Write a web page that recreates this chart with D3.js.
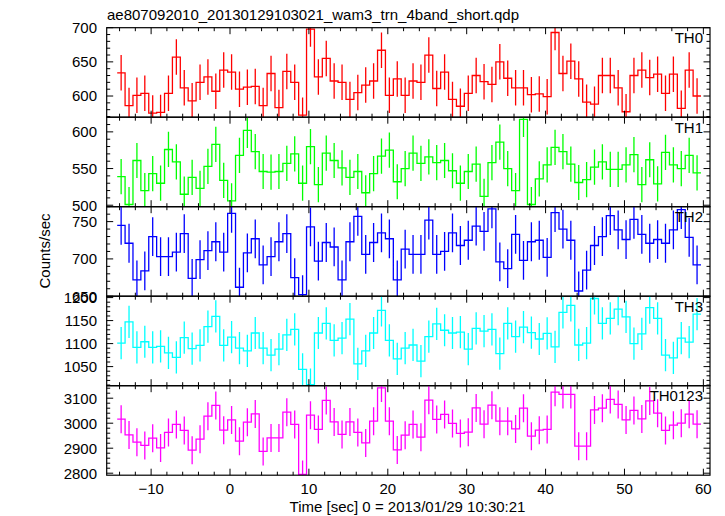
<!DOCTYPE html>
<html><head><meta charset="utf-8">
<script src="https://cdn.jsdelivr.net/npm/d3@7"></script>
<style>
body{margin:0;background:#fff}
svg{display:block}
text{font-family:"Liberation Sans",Arial,Helvetica,sans-serif;fill:#000}
</style>
</head><body>
<svg id="c" width="725" height="516"></svg>
<script>
// ---- data ----
const title = "ae807092010_20130129103021_wam3_trn_4band_short.qdp";
const xLabel = "Time [sec] 0 = 2013/01/29 10:30:21";
const yLabel = "Counts/sec";
const panelNames = ["TH0", "TH1", "TH2", "TH3", "TH0123"];
const times = [-13.8,-12.8,-11.8,-10.8,-9.8,-8.8,-7.8,-6.8,-5.8,-4.8,-3.8,-2.8,-1.8,-0.8,0.2,1.2,2.2,3.2,4.2,5.2,6.2,7.2,8.2,9.2,10.2,11.2,12.2,13.2,14.2,15.2,16.2,17.2,18.2,19.2,20.2,21.2,22.2,23.2,24.2,25.2,26.2,27.2,28.2,29.2,30.2,31.2,32.2,33.2,34.2,35.2,36.2,37.2,38.2,39.2,40.2,41.2,42.2,43.2,44.2,45.2,46.2,47.2,48.2,49.2,50.2,51.2,52.2,53.2,54.2,55.2,56.2,57.2,58.2,59.2];
const binWidth = 1.0;
const th0 = [634,586,601,604,575,576,604,657,612,593,620,628,607,638,635,610,613,614,586,633,583,636,620,572,698,628,655,622,620,595,605,616,622,667,601,625,601,622,620,660,611,635,595,585,604,630,621,617,650,626,612,612,602,603,599,693,633,651,625,591,588,630,630,612,577,630,638,627,632,604,632,582,638,600];
const th1 = [539,501,561,520,543,530,576,559,515,538,523,553,583,534,506,568,602,573,546,545,546,557,570,530,580,528,571,561,551,538,546,517,543,567,575,532,550,571,557,566,558,561,547,530,546,556,512,558,586,550,520,617,501,536,555,579,573,556,531,535,552,559,549,549,555,569,528,562,529,572,555,550,568,544];
const th2 = [745,721,672,684,730,703,703,709,734,674,699,711,723,709,761,662,708,727,692,703,723,734,675,652,743,697,722,716,672,723,757,706,722,735,727,672,713,706,706,752,706,710,735,718,725,744,737,767,696,687,733,698,723,725,702,762,740,725,657,685,718,730,758,739,726,753,733,721,726,721,739,766,729,692];
const th3 = [1101,1147,1092,1104,1092,1094,1080,1070,1113,1089,1096,1137,1159,1096,1114,1090,1084,1123,1090,1075,1088,1119,1131,1044,1011,1123,1144,1107,1112,1153,1056,1084,1123,1172,1107,1067,1090,1097,1062,1115,1143,1129,1123,1125,1088,1133,1127,1131,1078,1144,1115,1136,1124,1110,1122,1093,1168,1183,1097,1101,1198,1144,1155,1175,1158,1100,1121,1178,1155,1075,1069,1112,1103,1164];
const th0123 = [3016,2953,2924,2911,2940,2901,2963,2995,2971,2892,2936,3028,3071,2972,3013,2928,3004,3037,2887,2941,2941,3044,2995,2795,3032,2975,3091,3005,2955,3005,2963,2921,3008,3141,3008,2893,2952,2995,2944,3092,3015,3035,2999,2959,2964,3061,2996,3072,3008,3008,2977,3060,2948,2972,2975,3124,3115,3115,2908,2908,3053,3060,3095,3075,3013,3051,3017,3089,3040,2971,2992,3000,3036,2996];
const errors = [26, 24, 26, 35, 56];
const yDomains = [[569,700],[498,620],[650,770],[1008.5,1203],[2792,3150]];
const yMajorTicks = [[600,650,700],[500,550,600],[650,700,750],[1050,1100,1150,1200],[2800,2900,3000,3100]];
const yMinorStep = [10,10,10,10,20];
const xMajorTicks = [-10,0,10,20,30,40,50,60];
const xMinorStep = 2;
const xDomain = [-15.63, 60.84];

const series = [th0, th1, th2, th3, th0123];
const colors = ["#ff0000", "#00ff00", "#0000ff", "#00ffff", "#ff00ff"];

// ---- layout ----
const svg = d3.select("#c");
const left = 106.7, right = 710, top0 = 27.7, ph = 89.5;
const x = d3.scaleLinear().domain(xDomain).range([left, right]);
const majLen = 6.5, minLen = 3.5;

const xMinor = d3.range(Math.ceil(xDomain[0]/xMinorStep)*xMinorStep, xDomain[1], xMinorStep)
  .filter(v => !xMajorTicks.includes(v));

series.forEach((vals, i) => {
  const t = top0 + i*ph, b = t + ph;
  const y = d3.scaleLinear().domain(yDomains[i]).range([b, t]);
  const g = svg.append("g");
  const cid = "clip" + i;
  svg.append("clipPath").attr("id", cid).append("rect")
    .attr("x", left).attr("y", t).attr("width", right-left).attr("height", ph);
  const dg = g.append("g").attr("clip-path", `url(#${cid})`);

  // step histogram
  const pts = [];
  vals.forEach((v, k) => {
    pts.push([times[k]-binWidth/2, v]);
    pts.push([times[k]+binWidth/2, v]);
  });
  const line = d3.line().x(d => x(d[0])).y(d => y(d[1]));
  dg.append("path").attr("d", line(pts)).attr("fill","none")
    .attr("stroke", colors[i]).attr("stroke-width", 1.3);

  // error bars
  dg.selectAll("line.err").data(vals).join("line").attr("class","err")
    .attr("x1", (d,k) => x(times[k])).attr("x2", (d,k) => x(times[k]))
    .attr("y1", d => y(d - errors[i])).attr("y2", d => y(d + errors[i]))
    .attr("stroke", colors[i]).attr("stroke-width", 1.3);

  // frame
  g.append("rect").attr("x", left).attr("y", t).attr("width", right-left).attr("height", ph)
    .attr("fill","none").attr("stroke","#000").attr("stroke-width",1.2);

  const tk = g.append("g").attr("stroke","#000").attr("stroke-width",1);
  // x ticks top & bottom
  xMajorTicks.forEach(v => {
    tk.append("line").attr("x1",x(v)).attr("x2",x(v)).attr("y1",t).attr("y2",t+majLen);
    tk.append("line").attr("x1",x(v)).attr("x2",x(v)).attr("y1",b).attr("y2",b-majLen);
  });
  xMinor.forEach(v => {
    tk.append("line").attr("x1",x(v)).attr("x2",x(v)).attr("y1",t).attr("y2",t+minLen);
    tk.append("line").attr("x1",x(v)).attr("x2",x(v)).attr("y1",b).attr("y2",b-minLen);
  });
  // y ticks left & right
  const dom = yDomains[i];
  const yMin = d3.range(Math.ceil(dom[0]/yMinorStep[i])*yMinorStep[i], dom[1]+0.001, yMinorStep[i])
    .filter(v => !yMajorTicks[i].includes(v));
  yMajorTicks[i].forEach(v => {
    tk.append("line").attr("x1",left).attr("x2",left+majLen).attr("y1",y(v)).attr("y2",y(v));
    tk.append("line").attr("x1",right).attr("x2",right-majLen).attr("y1",y(v)).attr("y2",y(v));
  });
  yMin.forEach(v => {
    tk.append("line").attr("x1",left).attr("x2",left+minLen).attr("y1",y(v)).attr("y2",y(v));
    tk.append("line").attr("x1",right).attr("x2",right-minLen).attr("y1",y(v)).attr("y2",y(v));
  });
  // y labels
  g.selectAll("text.yl").data(yMajorTicks[i]).join("text").attr("class","yl")
    .attr("x", 97).attr("y", d => y(d)).attr("dy","0.36em")
    .attr("text-anchor","end").attr("font-size",15).text(d => d);
  // panel name
  g.append("text").attr("x", 703).attr("y", t+15.6).attr("text-anchor","end")
    .attr("font-size",15).text(panelNames[i]);
});

const bottom = top0 + 5*ph;
svg.append("g").selectAll("text").data(xMajorTicks).join("text")
  .attr("x", d => x(d)).attr("y", bottom + 18.5).attr("text-anchor","middle")
  .attr("font-size",15).text(d => d3.format("d")(d));

svg.append("text").attr("x", 107).attr("y", 20).attr("font-size",15).text(title);
svg.append("text").attr("x", x(22.5)).attr("y", 512).attr("text-anchor","middle")
  .attr("font-size",15).text(xLabel);
svg.append("text").attr("transform","translate(50,251) rotate(-90)")
  .attr("text-anchor","middle").attr("font-size",15).text(yLabel);
</script>
</body></html>
